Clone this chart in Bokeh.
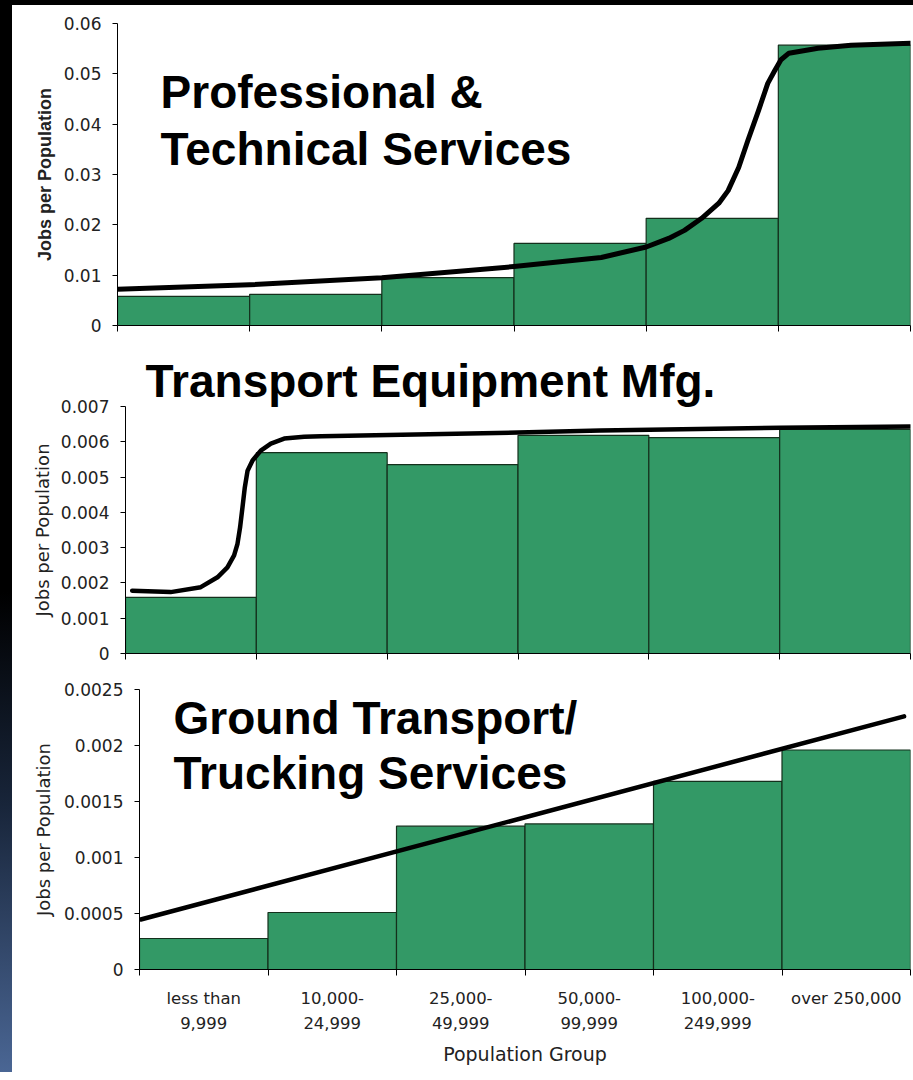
from bokeh.plotting import figure
from bokeh.models import Range1d, FixedTicker, LinearAxis, Label, Spacer
from bokeh.layouts import column, row
from bokeh.embed import file_html
from bokeh.resources import INLINE

# ---------------- data ----------------
group_line1 = ["less than", "10,000-", "25,000-", "50,000-", "100,000-", "over 250,000"]
group_line2 = ["9,999", "24,999", "49,999", "99,999", "249,999", ""]

prof_values = [0.0058, 0.0062, 0.0095, 0.0163, 0.0213, 0.0557]
prof_curve_x = [0.0, 1.0, 2.0, 3.0, 3.66, 4.0, 4.17, 4.29, 4.42, 4.55, 4.62, 4.70,
                4.77, 4.85, 4.92, 4.97, 5.02, 5.08, 5.30, 5.55, 6.0]
prof_curve_y = [0.0072, 0.0081, 0.0095, 0.0117, 0.0135, 0.0156, 0.0173, 0.0189, 0.0213,
                0.0243, 0.0268, 0.0314, 0.0368, 0.0427, 0.0481, 0.0505, 0.0528, 0.0541,
                0.0551, 0.0557, 0.0561]
prof_ticks = [0, 0.01, 0.02, 0.03, 0.04, 0.05, 0.06]
prof_tick_labels = ["0", "0.01", "0.02", "0.03", "0.04", "0.05", "0.06"]

trans_values = [0.00159, 0.00569, 0.00535, 0.00618, 0.00612, 0.00635]
trans_curve_x = [0.051, 0.345, 0.575, 0.703, 0.779, 0.830, 0.856, 0.876, 0.894, 0.912,
                 0.933, 0.971, 1.034, 1.111, 1.213, 1.366, 1.494, 3.0, 3.63, 5.0, 6.0]
trans_curve_y = [0.00178, 0.00174, 0.00188, 0.00216, 0.00244, 0.00278, 0.00311, 0.00358,
                 0.00414, 0.00471, 0.00518, 0.00547, 0.00575, 0.00595, 0.00609, 0.00614,
                 0.00616, 0.00626, 0.00632, 0.0064, 0.00643]
trans_ticks = [0, 0.001, 0.002, 0.003, 0.004, 0.005, 0.006, 0.007]
trans_tick_labels = ["0", "0.001", "0.002", "0.003", "0.004", "0.005", "0.006", "0.007"]

truck_values = [0.000277, 0.000509, 0.00128, 0.0013, 0.00168, 0.00196]
truck_trend_x = [0.01, 5.95]
truck_trend_y = [0.000446, 0.00226]
truck_ticks = [0, 0.0005, 0.001, 0.0015, 0.002, 0.0025]
truck_tick_labels = ["0", "0.0005", "0.001", "0.0015", "0.002", "0.0025"]

titles = ["Professional &\nTechnical Services", "Transport Equipment Mfg.",
          "Ground Transport/\nTrucking Services"]
y_label = "Jobs per Population"
x_label = "Population Group"

# ---------------- styling ----------------
BAR = "#339966"
BAR_LINE = "#14301c"
TICK_FONT = "DejaVu Sans"
TITLE_FONT = "Liberation Sans"

n = len(group_line1)
centers = [i + 0.5 for i in range(n)]
bounds = list(range(n + 1))


def base_fig(height, y_end, border_left, border_top, border_bottom):
    p = figure(width=901, height=height, x_range=Range1d(0, n), y_range=Range1d(0, y_end),
               output_backend="svg", toolbar_location=None,
               min_border_left=border_left, min_border_right=3,
               min_border_top=border_top, min_border_bottom=border_bottom)
    p.xgrid.visible = False
    p.ygrid.visible = False
    p.outline_line_color = None
    p.background_fill_color = "white"
    p.border_fill_color = "white"
    return p


def style_y(p, ticks, labels, bold, standoff):
    ax = p.yaxis[0]
    ax.ticker = FixedTicker(ticks=ticks, minor_ticks=[])
    ax.major_label_overrides = dict(zip(ticks, labels))
    ax.major_tick_in = 0
    ax.major_tick_out = 5
    ax.minor_tick_out = 0
    ax.minor_tick_in = 0
    ax.axis_line_color = "black"
    ax.major_tick_line_color = "black"
    ax.major_label_text_font = TICK_FONT
    ax.major_label_text_font_size = "17px"
    ax.major_label_text_color = "#222222"
    ax.major_label_standoff = 11
    ax.axis_label = y_label
    ax.axis_label_text_font = TICK_FONT if not bold else TITLE_FONT
    ax.axis_label_text_font_size = "18px"
    ax.axis_label_text_font_style = "bold" if bold else "normal"
    ax.axis_label_text_color = "#222222"
    ax.axis_label_standoff = standoff


def style_x_plain(p):
    ax = p.xaxis[0]
    ax.ticker = FixedTicker(ticks=[], minor_ticks=bounds)
    ax.minor_tick_out = 6
    ax.minor_tick_in = 0
    ax.major_tick_out = 0
    ax.major_tick_in = 0
    ax.axis_line_color = "black"
    ax.minor_tick_line_color = "black"


def bars(p, values):
    p.vbar(x=centers, width=1, top=values, bottom=0, fill_color=BAR,
           line_color=BAR_LINE, line_width=1.2)


# ---------------- chart 1 ----------------
p1 = base_fig(340, 0.06, 105, 18, 20)
bars(p1, prof_values)
p1.line(prof_curve_x, prof_curve_y, line_width=5, line_color="black",
        line_join="round", line_cap="round")
style_y(p1, prof_ticks, prof_tick_labels, True, 6)
style_x_plain(p1)
p1.add_layout(Label(x=0.326, y=0.0516, text=titles[0], text_baseline="top",
                    text_align="left", text_font=TITLE_FONT, text_font_size="46px",
                    text_font_style="bold", text_line_height=1.11, text_color="black"))

# ---------------- chart 2 ----------------
p2 = base_fig(323, 0.007, 113, 61, 15)
bars(p2, trans_values)
p2.line(trans_curve_x, trans_curve_y, line_width=4.5, line_color="black",
        line_join="round", line_cap="round")
style_y(p2, trans_ticks, trans_tick_labels, False, 5)
style_x_plain(p2)
p2.title.text = titles[1]
p2.title.text_font = TITLE_FONT
p2.title.text_font_size = "46px"
p2.title.text_font_style = "bold"
p2.title.align = "left"
p2.title.offset = 20
p2.title.standoff = 0
p2.title.text_color = "black"

# ---------------- chart 3 ----------------
p3 = base_fig(404, 0.0025, 127, 21, 103)
bars(p3, truck_values)
p3.line(truck_trend_x, truck_trend_y, line_width=4.5, line_color="black",
        line_cap="round")
style_y(p3, truck_ticks, truck_tick_labels, False, 7)

xa = p3.xaxis[0]
xa.ticker = FixedTicker(ticks=centers, minor_ticks=bounds)
xa.major_label_overrides = dict(zip(centers, group_line1))
xa.major_tick_out = 0
xa.major_tick_in = 0
xa.minor_tick_out = 6
xa.minor_tick_in = 0
xa.axis_line_color = "black"
xa.minor_tick_line_color = "black"
xa.major_label_text_font = TICK_FONT
xa.major_label_text_font_size = "16.5px"
xa.major_label_text_color = "#222222"
xa.major_label_standoff = 13

xb = LinearAxis(ticker=FixedTicker(ticks=centers, minor_ticks=[]))
xb.major_label_overrides = dict(zip(centers, group_line2))
xb.axis_line_color = None
xb.major_tick_line_color = None
xb.minor_tick_line_color = None
xb.major_tick_out = 0
xb.major_tick_in = 0
xb.major_label_text_font = TICK_FONT
xb.major_label_text_font_size = "16.5px"
xb.major_label_text_color = "#222222"
xb.major_label_standoff = 6
xb.axis_label = x_label
xb.axis_label_text_font = TICK_FONT
xb.axis_label_text_font_size = "19px"
xb.axis_label_text_font_style = "normal"
xb.axis_label_text_color = "#222222"
xb.axis_label_standoff = 11
p3.add_layout(xb, "below")

p3.add_layout(Label(x=0.265, y=0.00248, text=titles[2], text_baseline="top",
                    text_align="left", text_font=TITLE_FONT, text_font_size="46px",
                    text_font_style="bold", text_line_height=1.07, text_color="black"))

top_band = Spacer(width=913, height=5, styles={"background": "#000000"})
strip = Spacer(width=12, height=1067, styles={
    "background": "linear-gradient(to bottom, #000000 0%, #000000 55%, #18253a 75%, #4a6694 100%)"})

charts = column(row(p1), row(p2), row(p3), spacing=0)
layout = column(top_band, row(strip, charts, spacing=0), spacing=0)

open("out.html", "w").write(file_html(layout, INLINE))
